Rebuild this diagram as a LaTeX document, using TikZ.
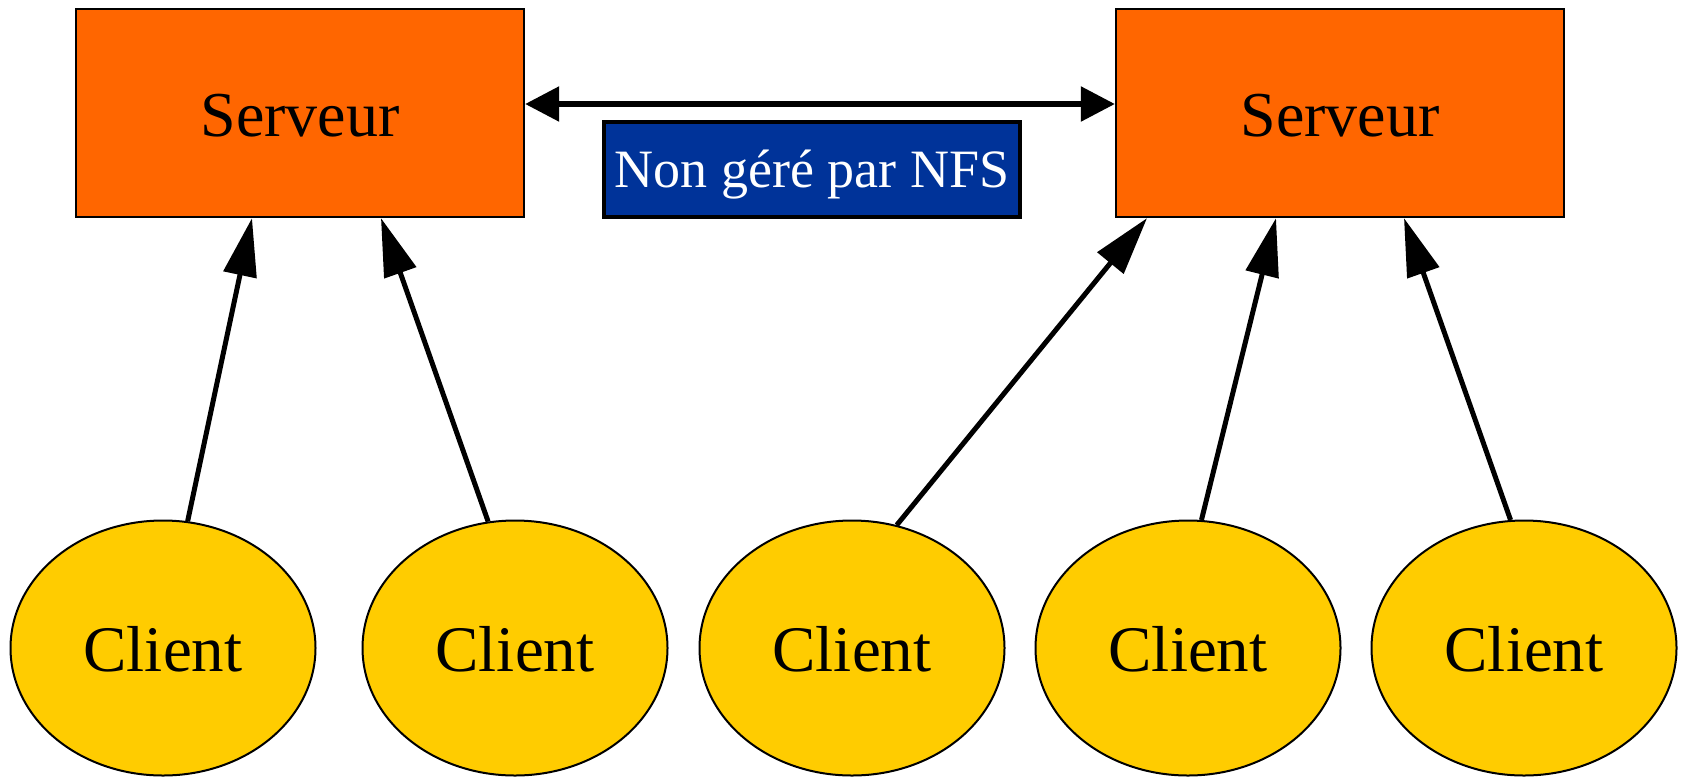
\documentclass[tikz,border=0pt]{standalone}
\usepackage{fontspec}
\setmainfont{Liberation Serif}
\usetikzlibrary{arrows.meta,shapes.geometric}
\definecolor{orserv}{HTML}{FF6600}
\definecolor{jaune}{HTML}{FFCC00}
\definecolor{bleunfs}{HTML}{003399}

\begin{document}
\begin{tikzpicture}[x=1pt,y=-1pt,
      serveur/.style={draw,line width=2.3pt,fill=orserv,inner sep=0pt,
        minimum width=448pt,minimum height=208pt,text height=46pt,
        text depth=0pt,font=\fontsize{64}{70}\selectfont},
      client/.style={ellipse,draw,line width=2pt,fill=jaune,inner sep=0pt,
        minimum width=305pt,minimum height=255pt,text height=47pt,
        text depth=0pt,font=\fontsize{65}{70}\selectfont},
      note/.style={draw,line width=4pt,fill=bleunfs,text=white,inner sep=0pt,
        minimum width=416pt,minimum height=95pt,text height=43pt,
        text depth=7pt,font=\fontsize{54}{60}\selectfont},
      fl/.style={line width=5pt,-{Triangle[length=58pt,width=33pt]}},
      fl2/.style={line width=5.5pt,
        {Triangle[length=34pt,width=34pt]}-{Triangle[length=34pt,width=34pt]}}]

    \useasboundingbox (0,0) rectangle (1683,777);

    % Les deux serveurs
    \node[serveur] (s1) at (300,113) {Serveur};
    \node[serveur] (s2) at (1340,113) {Serveur};
    \node[note] (nfs) at (812,169) {Non géré par NFS};

    % Liaison entre serveurs, hors NFS
    \draw[fl2] ([yshift=9pt]s1.east) -- ([yshift=9pt]s2.west);

    % Rangée des clients
    \foreach \i/\x in {1/163, 2/515, 3/852, 4/1188, 5/1524}
      {\node[client] (c\i) at (\x,648) {Client};}

    % Chaque client vers son serveur
    \foreach \c/\a/\s/\d in {c1/79/s1/-48, c2/102/s1/81, c3/70/s2/-193,
        c4/84/s2/-64, c5/96/s2/64}
      {\draw[fl] (\c.\a) -- ([xshift=\d pt]\s.south);}
  \end{tikzpicture}
\end{document}
